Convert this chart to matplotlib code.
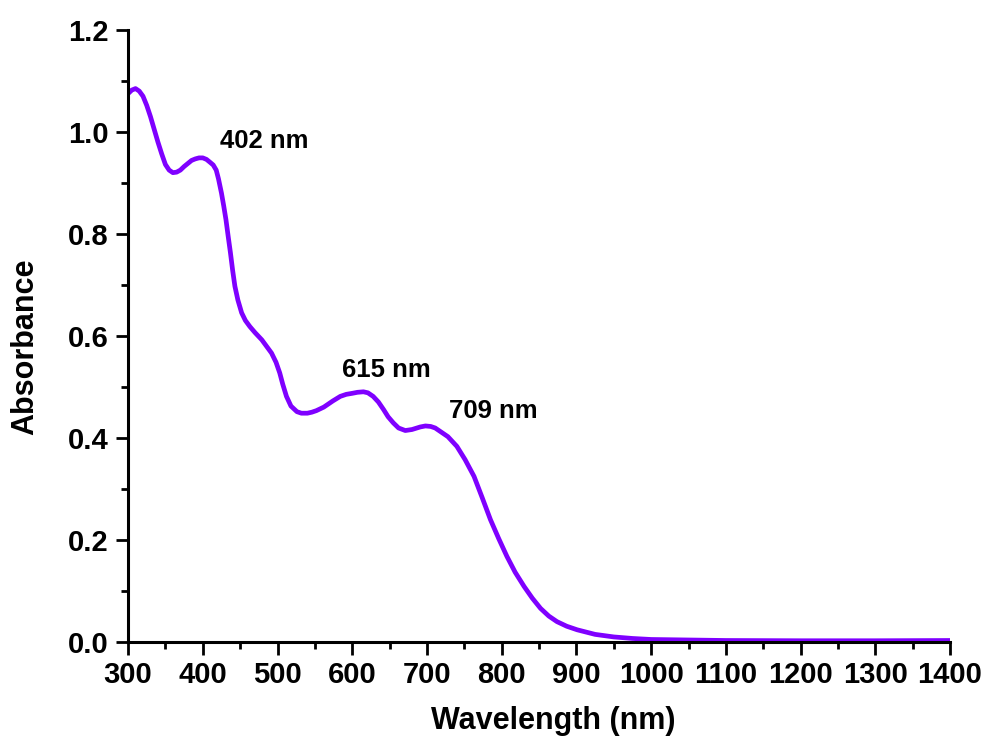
import matplotlib
matplotlib.use("Agg")
import matplotlib.pyplot as plt
from matplotlib.ticker import MultipleLocator, FormatStrFormatter

plt.rcParams["font.family"] = ["Liberation Sans", "DejaVu Sans"]
plt.rcParams["font.weight"] = "bold"

# absorbance spectrum
wavelength = [300, 305, 310, 315, 320, 325, 330, 335, 340, 345, 350, 355, 360, 365,
              370, 375, 380, 385, 390, 395, 400, 405, 410, 414, 418, 421, 425, 428,
              431, 434, 437, 440, 443, 447, 452, 457, 463, 470, 479, 485, 492, 498,
              503, 507, 512, 518, 526, 532, 540, 546, 552, 562, 568, 574, 584, 592,
              600, 607, 615, 621, 628, 635, 642, 648, 655, 662, 671, 680, 691, 698,
              705, 711, 718, 728, 740, 751, 763, 774, 785, 796, 807, 818, 830, 841,
              852, 863, 874, 887, 901, 925, 950, 975, 1000, 1100, 1200, 1300, 1400]
absorbance = [1.075, 1.082, 1.085, 1.080, 1.070, 1.052, 1.030, 1.005, 0.980, 0.957,
              0.936, 0.925, 0.920, 0.921, 0.925, 0.932, 0.938, 0.944, 0.947, 0.949,
              0.949, 0.946, 0.940, 0.935, 0.925, 0.908, 0.880, 0.855, 0.828, 0.795,
              0.763, 0.728, 0.697, 0.670, 0.645, 0.630, 0.618, 0.606, 0.592, 0.580,
              0.566, 0.548, 0.527, 0.505, 0.481, 0.462, 0.451, 0.448, 0.448, 0.450,
              0.453, 0.460, 0.466, 0.472, 0.481, 0.485, 0.487, 0.489, 0.490, 0.488,
              0.481, 0.470, 0.455, 0.441, 0.429, 0.419, 0.414, 0.416, 0.421, 0.423,
              0.422, 0.419, 0.412, 0.402, 0.383, 0.357, 0.324, 0.282, 0.239, 0.202,
              0.167, 0.136, 0.108, 0.085, 0.065, 0.050, 0.039, 0.030, 0.023, 0.014,
              0.009, 0.006, 0.004, 0.002, 0.0015, 0.0015, 0.002]

peak_labels = ["402 nm", "615 nm", "709 nm"]
label_x = [482, 646, 789]
label_y = [0.982, 0.533, 0.453]

fig = plt.figure(figsize=(9.88, 7.49), dpi=100)
ax = fig.add_axes([0.1296, 0.1435, 0.832, 0.8165])

ax.plot(wavelength, absorbance, color="#7f00ff", linewidth=3.4,
        solid_capstyle="round", solid_joinstyle="round")

for t, x, y in zip(peak_labels, label_x, label_y):
    ax.text(x, y, t, ha="center", va="center", fontsize=18.5, fontweight="bold")

ax.set_xlim(300, 1400)
ax.set_ylim(0, 1.2)
ax.xaxis.set_major_locator(MultipleLocator(100))
ax.xaxis.set_minor_locator(MultipleLocator(50))
ax.yaxis.set_major_locator(MultipleLocator(0.2))
ax.yaxis.set_minor_locator(MultipleLocator(0.1))
ax.yaxis.set_major_formatter(FormatStrFormatter("%.1f"))

for s in ["top", "right"]:
    ax.spines[s].set_visible(False)
for s in ["left", "bottom"]:
    ax.spines[s].set_linewidth(2.2)

ax.tick_params(which="major", direction="out", length=9, width=2, labelsize=21, pad=5)
ax.tick_params(which="minor", direction="out", length=5, width=2)
for lab in ax.get_xticklabels() + ax.get_yticklabels():
    lab.set_fontweight("bold")

ax.set_xlabel("Wavelength (nm)", fontsize=22, fontweight="bold")
ax.set_ylabel("Absorbance", fontsize=22, fontweight="bold")
ax.xaxis.set_label_coords(0.517, -0.105)
ax.yaxis.set_label_coords(-0.107, 0.482)

fig.savefig("out.png", dpi=100)
